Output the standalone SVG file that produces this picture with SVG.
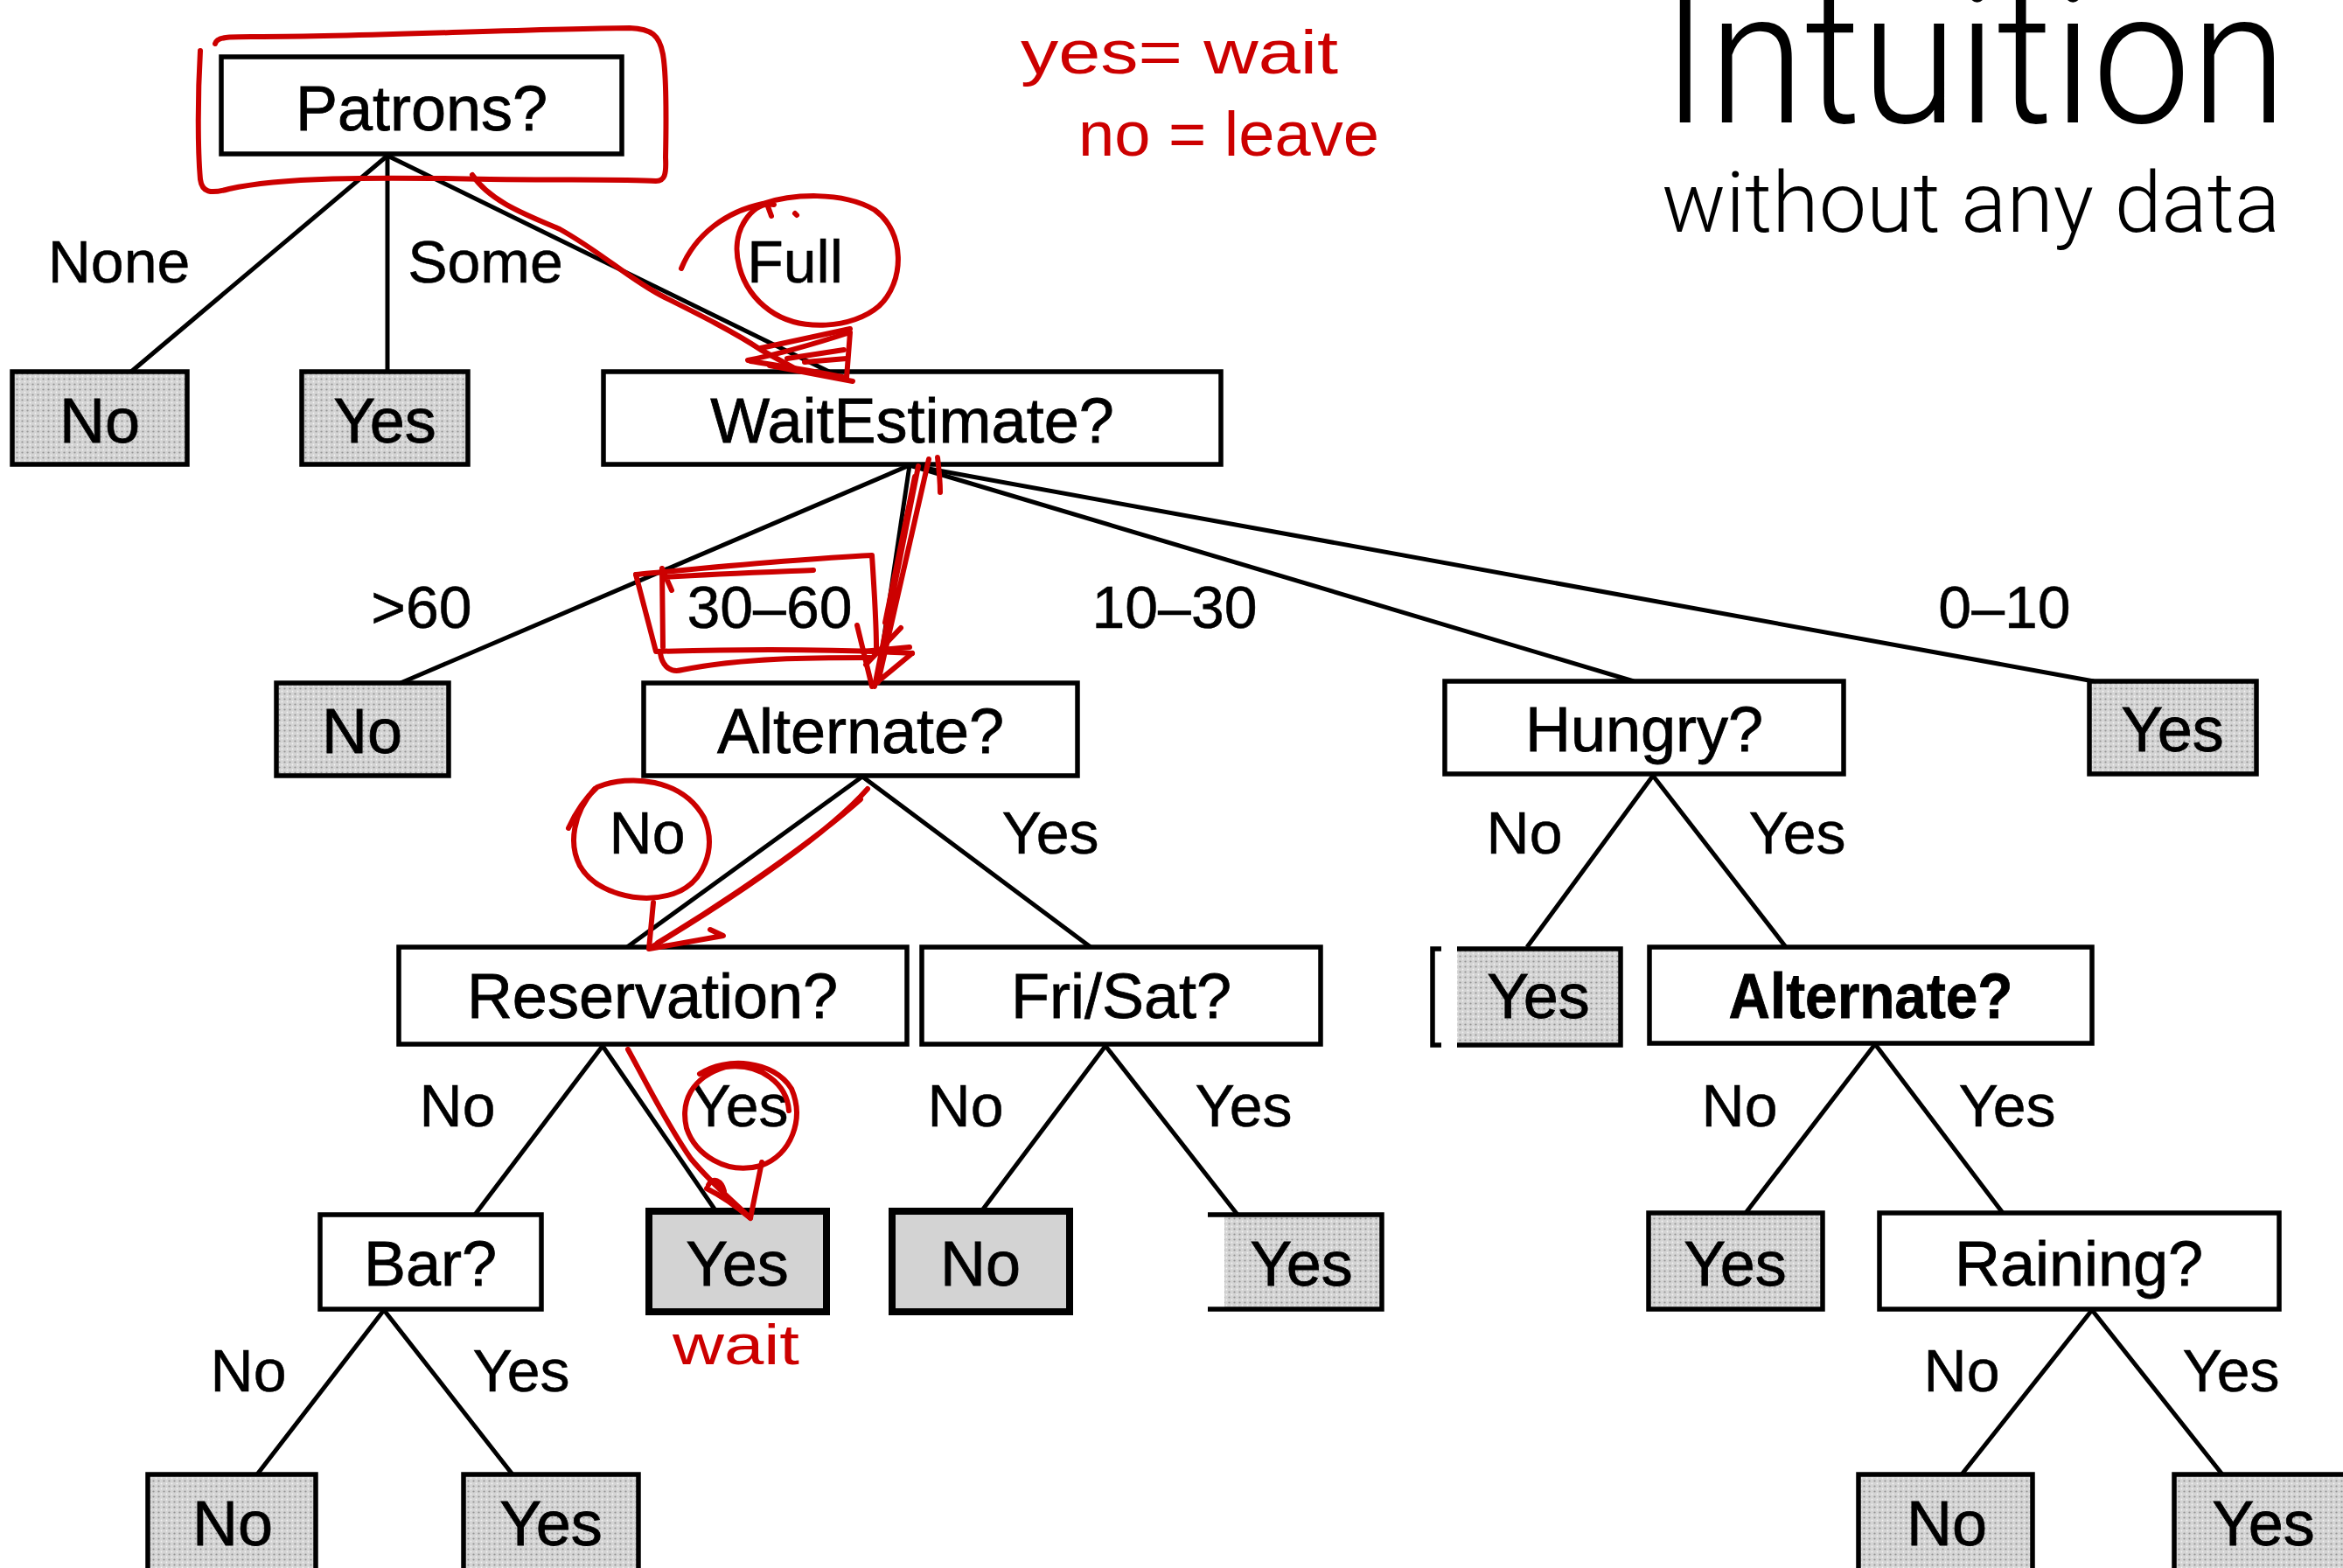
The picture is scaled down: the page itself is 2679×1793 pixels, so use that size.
<svg xmlns="http://www.w3.org/2000/svg" width="2679" height="1793" viewBox="0 0 2679 1793">
  <defs>
    <!-- halftone-like grey fill for leaf boxes -->
    <pattern id="halftone" width="6" height="6" patternUnits="userSpaceOnUse">
      <rect width="6" height="6" fill="#d4d4d4"/>
      <circle cx="1.5" cy="1.5" r="1.1" fill="#959595"/>
      <circle cx="4.5" cy="4.5" r="0.9" fill="#f2f2f2"/>
    </pattern>
  </defs>
  <style>
    .box { fill: #ffffff; stroke: #000; stroke-width: 5.5; }
    .leaf { fill: url(#halftone); stroke: #000; stroke-width: 5.5; }
    .solid { fill: #d3d3d3; stroke: #000; stroke-width: 8; }
    .open { fill: none; stroke: #000; stroke-width: 5.5; }
    .lbl { font-family: "Liberation Sans", Arial, sans-serif; font-size: 72px; fill: #000; stroke: #000; stroke-width: 0.8; text-anchor: middle; }
    .bold { font-weight: bold; }
    .edge { stroke: #000; stroke-width: 5; fill: none; }
    .elbl { font-family: "Liberation Sans", Arial, sans-serif; font-size: 68px; fill: #000; stroke: #000; stroke-width: 0.5; text-anchor: middle; }
    .ink { fill: none; stroke: #cc0000; stroke-width: 6; stroke-linecap: round; stroke-linejoin: round; }
    .inktxt { font-family: "Liberation Sans Narrow", "Liberation Sans", sans-serif; fill: #cc0000; }
    .title { font-family: Roboto, "Open Sans", Lato, sans-serif; font-weight: 300; fill: #000; }
  </style>

  <rect width="2679" height="1793" fill="#ffffff"/>

  <!-- title -->
  <text class="title" x="1900" y="140" font-size="214" textLength="715" lengthAdjust="spacingAndGlyphs">Intuition</text>
  <text class="title" x="1900" y="265" font-size="96" textLength="707" lengthAdjust="spacingAndGlyphs">without any data</text>

  <!-- tree branches -->
  <g id="connectors">
    <line class="edge" x1="443" y1="178" x2="150" y2="425"/>
    <line class="edge" x1="443" y1="178" x2="443" y2="425"/>
    <line class="edge" x1="443" y1="178" x2="948" y2="425"/>

    <line class="edge" x1="1040" y1="532" x2="458" y2="781"/>
    <line class="edge" x1="1040" y1="532" x2="1003" y2="781"/>
    <line class="edge" x1="1040" y1="532" x2="1868" y2="779"/>
    <line class="edge" x1="1040" y1="532" x2="2394" y2="779"/>

    <line class="edge" x1="986" y1="888" x2="717" y2="1083"/>
    <line class="edge" x1="986" y1="888" x2="1247" y2="1083"/>

    <line class="edge" x1="689" y1="1196" x2="543" y2="1389"/>
    <line class="edge" x1="689" y1="1196" x2="818" y2="1384"/>

    <line class="edge" x1="1264" y1="1196" x2="1123" y2="1384"/>
    <line class="edge" x1="1264" y1="1196" x2="1415" y2="1389"/>

    <line class="edge" x1="439" y1="1498" x2="294" y2="1686"/>
    <line class="edge" x1="439" y1="1498" x2="586" y2="1686"/>

    <line class="edge" x1="1890" y1="887" x2="1746" y2="1083"/>
    <line class="edge" x1="1890" y1="887" x2="2042" y2="1083"/>

    <line class="edge" x1="2144" y1="1194" x2="1996" y2="1387"/>
    <line class="edge" x1="2144" y1="1194" x2="2290" y2="1387"/>

    <line class="edge" x1="2392" y1="1498" x2="2243" y2="1686"/>
    <line class="edge" x1="2392" y1="1498" x2="2541" y2="1686"/>
  </g>

  <!-- branch labels -->
  <g id="edge-labels">
    <text class="elbl" x="136" y="323">None</text>
    <text class="elbl" x="555" y="323">Some</text>
    <text class="elbl" x="909" y="323">Full</text>
    <text class="elbl" x="482" y="718">&gt;60</text>
    <text class="elbl" x="880" y="718">30–60</text>
    <text class="elbl" x="1343" y="718">10–30</text>
    <text class="elbl" x="2292" y="718">0–10</text>
    <text class="elbl" x="740" y="976">No</text>
    <text class="elbl" x="1201" y="976">Yes</text>
    <text class="elbl" x="1743" y="976">No</text>
    <text class="elbl" x="2055" y="976">Yes</text>
    <text class="elbl" x="523" y="1288">No</text>
    <text class="elbl" x="846" y="1288">Yes</text>
    <text class="elbl" x="1104" y="1288">No</text>
    <text class="elbl" x="1422" y="1288">Yes</text>
    <text class="elbl" x="1989" y="1288">No</text>
    <text class="elbl" x="2295" y="1288">Yes</text>
    <text class="elbl" x="284" y="1591">No</text>
    <text class="elbl" x="596" y="1591">Yes</text>
    <text class="elbl" x="2243" y="1591">No</text>
    <text class="elbl" x="2551" y="1591">Yes</text>
  </g>

  <!-- decision nodes -->
  <g id="patrons"><rect class="box" x="253" y="65" width="458" height="111"/><text class="lbl" x="482" y="149">Patrons?</text></g>
  <g id="wait-estimate"><rect class="box" x="690" y="425" width="706" height="106"/><text class="lbl" x="1043" y="506">WaitEstimate?</text></g>
  <g id="alternate-1"><rect class="box" x="736" y="781" width="496" height="106"/><text class="lbl" x="984" y="861">Alternate?</text></g>
  <g id="hungry"><rect class="box" x="1652" y="779" width="456" height="106"/><text class="lbl" x="1880" y="859">Hungry?</text></g>
  <g id="reservation"><rect class="box" x="456" y="1083" width="581" height="111"/><text class="lbl" x="746" y="1164">Reservation?</text></g>
  <g id="fri-sat"><rect class="box" x="1054" y="1083" width="456" height="111"/><text class="lbl" x="1282" y="1164">Fri/Sat?</text></g>
  <g id="alternate-2"><rect class="box" x="1886" y="1083" width="506" height="110"/><text class="lbl bold" x="2139" y="1164" textLength="325" lengthAdjust="spacingAndGlyphs">Alternate?</text></g>
  <g id="bar"><rect class="box" x="366" y="1389" width="253" height="108"/><text class="lbl" x="492" y="1470">Bar?</text></g>
  <g id="raining"><rect class="box" x="2149" y="1387" width="457" height="110"/><text class="lbl" x="2377" y="1470">Raining?</text></g>

  <!-- leaf nodes -->
  <g id="leaf-none-no"><rect class="leaf" x="14" y="425" width="200" height="106"/><text class="lbl" x="114" y="506">No</text></g>
  <g id="leaf-some-yes"><rect class="leaf" x="345" y="425" width="190" height="106"/><text class="lbl" x="440" y="506">Yes</text></g>
  <g id="leaf-gt60-no"><rect class="leaf" x="316" y="781" width="197" height="106"/><text class="lbl" x="414" y="861">No</text></g>
  <g id="leaf-0-10-yes"><rect class="leaf" x="2389" y="779" width="191" height="106"/><text class="lbl" x="2484" y="859">Yes</text></g>
  <g id="leaf-hungry-no-yes">
    <path class="open" d="M1648,1085 H1638 V1195 H1648"/>
    <rect x="1666" y="1085" width="187" height="110" fill="url(#halftone)"/>
    <path class="open" d="M1666,1085 H1853 V1195 H1666"/>
    <text class="lbl" x="1759" y="1164">Yes</text>
  </g>
  <g id="leaf-reservation-yes"><rect class="solid" x="742" y="1385" width="203" height="115"/><text class="lbl" x="843" y="1470">Yes</text></g>
  <g id="leaf-frisat-no"><rect class="solid" x="1020" y="1385" width="203" height="115"/><text class="lbl" x="1121" y="1470">No</text></g>
  <g id="leaf-frisat-yes">
    <rect x="1400" y="1389" width="180" height="108" fill="url(#halftone)"/>
    <path class="open" d="M1381,1389 H1580 V1497 H1381"/>
    <text class="lbl" x="1488" y="1470">Yes</text>
  </g>
  <g id="leaf-alt-no-yes"><rect class="leaf" x="1885" y="1387" width="199" height="110"/><text class="lbl" x="1984" y="1470">Yes</text></g>
  <g id="leaf-bar-no"><rect class="leaf" x="169" y="1686" width="192" height="120"/><text class="lbl" x="266" y="1767">No</text></g>
  <g id="leaf-bar-yes"><rect class="leaf" x="530" y="1686" width="200" height="120"/><text class="lbl" x="630" y="1767">Yes</text></g>
  <g id="leaf-rain-no"><rect class="leaf" x="2125" y="1686" width="199" height="120"/><text class="lbl" x="2226" y="1767">No</text></g>
  <g id="leaf-rain-yes"><rect class="leaf" x="2486" y="1686" width="200" height="120"/><text class="lbl" x="2588" y="1767">Yes</text></g>

  <!-- red pen annotations -->
  <g id="annotations">
    <text class="inktxt" x="1167" y="84" font-size="70" textLength="363" lengthAdjust="spacingAndGlyphs">yes= wait</text>
    <text class="inktxt" x="1233" y="178" font-size="72" textLength="344" lengthAdjust="spacingAndGlyphs">no = leave</text>
    <text class="inktxt" x="769" y="1560" font-size="64" textLength="145" lengthAdjust="spacingAndGlyphs">wait</text>

    <!-- frame round the root test -->
    <path class="ink" d="M229,58 C226,110 226,170 229,205 C231,220 240,222 262,216 C320,203 420,202 560,205 C650,206 720,205 750,207 C760,207 762,200 761,180 C762,130 762,85 758,62 C754,40 745,33 720,32 C600,33 420,42 300,42 C265,42 248,41 246,50"/>

    <!-- path to WaitEstimate -->
    <path class="ink" d="M540,200 C560,230 600,245 640,262 C690,290 720,320 760,340 C800,360 840,380 870,400 L910,422"/>
    <path class="ink" d="M855,412 C895,404 935,392 972,380 L968,432 C930,424 890,418 858,413"/>
    <path class="ink" d="M870,398 L972,376 M880,418 L975,436 M900,410 L965,400 M920,414 L968,410"/>

    <!-- ring round "Full" -->
    <path class="ink" d="M779,307 C795,268 830,242 872,233 C905,222 962,218 1000,240 C1035,265 1035,322 1005,350 C975,376 915,380 880,355 C845,330 832,282 852,252 C862,237 874,232 885,234"/>
    <path class="ink" d="M878,236 L882,247 M909,244 L911,246"/>

    <!-- arrow down to Alternate -->
    <path class="ink" d="M1050,533 L1000,785 M1062,525 L1004,780 M1072,523 C1074,540 1075,552 1075,563 M1046,545 L1012,712"/>
    <path class="ink" d="M980,715 L997,785 L1043,747 M986,745 L1040,740 M990,760 L1030,718"/>

    <!-- frame round "30–60" -->
    <path class="ink" d="M727,657 C738,700 746,730 750,745 C850,742 950,742 1043,747"/>
    <path class="ink" d="M727,657 C800,650 900,640 997,635 C1000,680 1002,720 1002,740"/>
    <path class="ink" d="M755,747 C757,760 765,770 780,766 C850,752 930,752 995,752"/>
    <path class="ink" d="M757,650 L758,740 M757,650 L768,675 M760,660 C820,656 880,654 930,652"/>

    <!-- ring round "No" -->
    <path class="ink" d="M650,947 C660,925 672,910 683,900 C720,885 780,890 805,935 C820,970 805,1010 770,1022 C730,1035 680,1020 663,990 C650,965 655,930 680,902"/>

    <!-- arrow down to Reservation -->
    <path class="ink" d="M992,902 C950,950 850,1020 745,1083 M984,914 C930,962 832,1030 752,1078"/>
    <path class="ink" d="M747,1032 L742,1085 L827,1070 L812,1063"/>

    <!-- arrow down to the Yes leaf -->
    <path class="ink" d="M718,1200 C740,1240 765,1290 790,1325 C815,1355 840,1375 858,1393"/>
    <path class="ink" d="M808,1359 C830,1370 845,1382 858,1393 L871,1329 M810,1355 C815,1345 825,1350 828,1362"/>

    <!-- ring round "Yes" -->
    <path class="ink" d="M800,1228 C830,1208 885,1212 905,1245 C920,1280 905,1320 870,1333 C830,1344 795,1320 785,1290 C778,1260 790,1232 830,1220 C870,1215 900,1240 902,1270"/>
  </g>
</svg>
